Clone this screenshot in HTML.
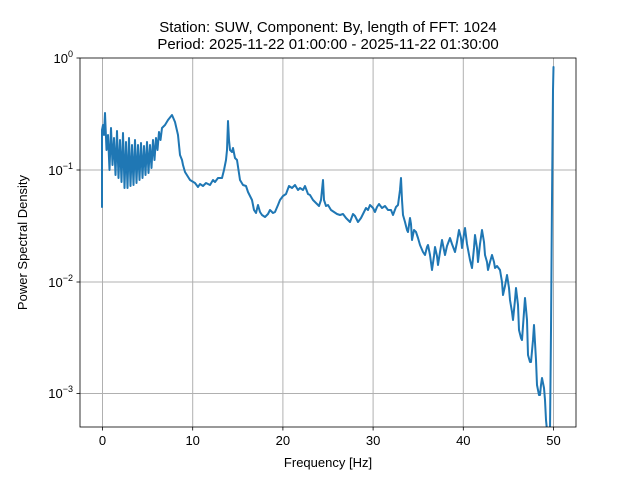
<!DOCTYPE html>
<html><head><meta charset="utf-8"><style>
html,body{margin:0;padding:0;background:#fff;}
svg{display:block;font-family:"Liberation Sans","DejaVu Sans",sans-serif;}
</style></head><body>
<svg width="640" height="480" viewBox="0 0 640 480" xmlns="http://www.w3.org/2000/svg">
<rect width="640" height="480" fill="#fff"/>
<defs><clipPath id="c"><rect x="80" y="58" width="496" height="369"/></clipPath></defs>
<g stroke="#b0b0b0" stroke-width="1">
<line x1="102.5" y1="58" x2="102.5" y2="427"/>
<line x1="192.7" y1="58" x2="192.7" y2="427"/>
<line x1="282.9" y1="58" x2="282.9" y2="427"/>
<line x1="373.1" y1="58" x2="373.1" y2="427"/>
<line x1="463.3" y1="58" x2="463.3" y2="427"/>
<line x1="553.5" y1="58" x2="553.5" y2="427"/>
<line x1="80" y1="170" x2="576" y2="170"/>
<line x1="80" y1="282" x2="576" y2="282"/>
<line x1="80" y1="393.5" x2="576" y2="393.5"/>
</g>
<polyline clip-path="url(#c)" fill="none" stroke="#1f77b4" stroke-width="2" stroke-linejoin="round" stroke-linecap="round" points="
102,207 102,130 103,125 104,135 105,113 106.5,150 108,135 109.5,170 111,128 112.5,165 114,138 115.5,175 117,131 118.5,178 120,140 121.5,182 123,133 124.5,188 126,142 127.5,188 129,138 130.5,186 132,145 133.5,185 135,140 136.5,183 138,145 139.5,180 141,143 142.5,178 144,146 145.5,175 147,142 148.5,173 150,145 151.5,168 153,140 154.5,160 156,138 157.5,150 159,132 160.5,140 162,128 165,125 168,120 172,115 175,122 178,135 180,155 182,160 183,165 185,172 190,180 195,183 198,187 200,184 203,186 206,183 210,185 213,180 215,182 218,178 222,178 224,170 226,160 227,150 228,121 229,140 230,150 232,152 233,148 235,158 237,160 240,180 243,185 246,186 248,192 250,196 252,200 254,210 256,213 258,205 260,212 262,215 265,217 268,214 270,210 273,213 275,212 278,205 280,200 283,196 286,194 289,186 292,188 295,185 298,190 300,188 303,190 305,186 308,194 310,195 313,200 316,203 319,206 321,200 323,180 324,200 326,206 328,205 331,210 334,212 337,214 340,215 343,214 346,218 348,220 350,222 353,214 355,216 358,222 361,218 364,212 366,208 368,210 370,205 373,208 375,212 377,207 379,204 382,208 385,206 388,210 391,210 393,215 396,207 398,205 400,190 401,178 402,200 403,215 405,222 407,230 408,232 410,218 411,224 412,240 414,230 416,232 418,238 420,245 423,252 425,255 427,247 428,245 430,255 432,270 434,256 435,247 437,256 438,265 440,252 442,240 444,250 445,255 447,246 450,238 452,244 455,252 457,242 459,230 461,238 462,248 464,234 465,228 467,244 470,260 472,268 474,248 475,235 477,248 478,262 480,244 482,230 484,242 485,255 487,262 488,270 490,262 492,255 494,262 495,268 497,266 500,270 502,282 503,295 505,286 507,275 509,288 510,300 512,312 513,320 515,300 516,288 518,305 519,330 521,338 522,340 524,312 525,298 527,320 528,355 530,362 531,362 533,340 534,325 536,360 537,385 539,395 540,395 541,385 542,378 544,388 545,400 546,420 547,430 550,430 551,330 552,200 553,90 553.5,67"/>
<rect x="80" y="58" width="496" height="369" fill="none" stroke="#000" stroke-width="0.8"/>
<g stroke="#000" stroke-width="0.8">
<line x1="102.5" y1="427" x2="102.5" y2="430.5"/>
<line x1="192.7" y1="427" x2="192.7" y2="430.5"/>
<line x1="282.9" y1="427" x2="282.9" y2="430.5"/>
<line x1="373.1" y1="427" x2="373.1" y2="430.5"/>
<line x1="463.3" y1="427" x2="463.3" y2="430.5"/>
<line x1="553.5" y1="427" x2="553.5" y2="430.5"/>
<line x1="76.5" y1="58" x2="80" y2="58"/>
<line x1="76.5" y1="170" x2="80" y2="170"/>
<line x1="76.5" y1="282" x2="80" y2="282"/>
<line x1="76.5" y1="393.5" x2="80" y2="393.5"/>
</g>
<g font-size="13" fill="#000" text-anchor="middle">
<text x="102.5" y="445">0</text>
<text x="192.7" y="445">10</text>
<text x="282.9" y="445">20</text>
<text x="373.1" y="445">30</text>
<text x="463.3" y="445">40</text>
<text x="553.5" y="445">50</text>
<text x="328" y="467">Frequency [Hz]</text>
<text x="328" y="32" font-size="15">Station: SUW, Component: By, length of FFT: 1024</text>
<text x="328" y="49" font-size="15">Period: 2025-11-22 01:00:00 - 2025-11-22 01:30:00</text>
</g>
<g font-size="13" fill="#000" text-anchor="end">
<text x="73" y="63">10<tspan font-size="9" dy="-6">0</tspan></text>
<text x="73" y="175">10<tspan font-size="9" dy="-6">−1</tspan></text>
<text x="73" y="287">10<tspan font-size="9" dy="-6">−2</tspan></text>
<text x="73" y="398">10<tspan font-size="9" dy="-6">−3</tspan></text>
</g>
<text x="27" y="242.5" font-size="13" text-anchor="middle" transform="rotate(-90 27 242.5)">Power Spectral Density</text>
</svg>
</body></html>
